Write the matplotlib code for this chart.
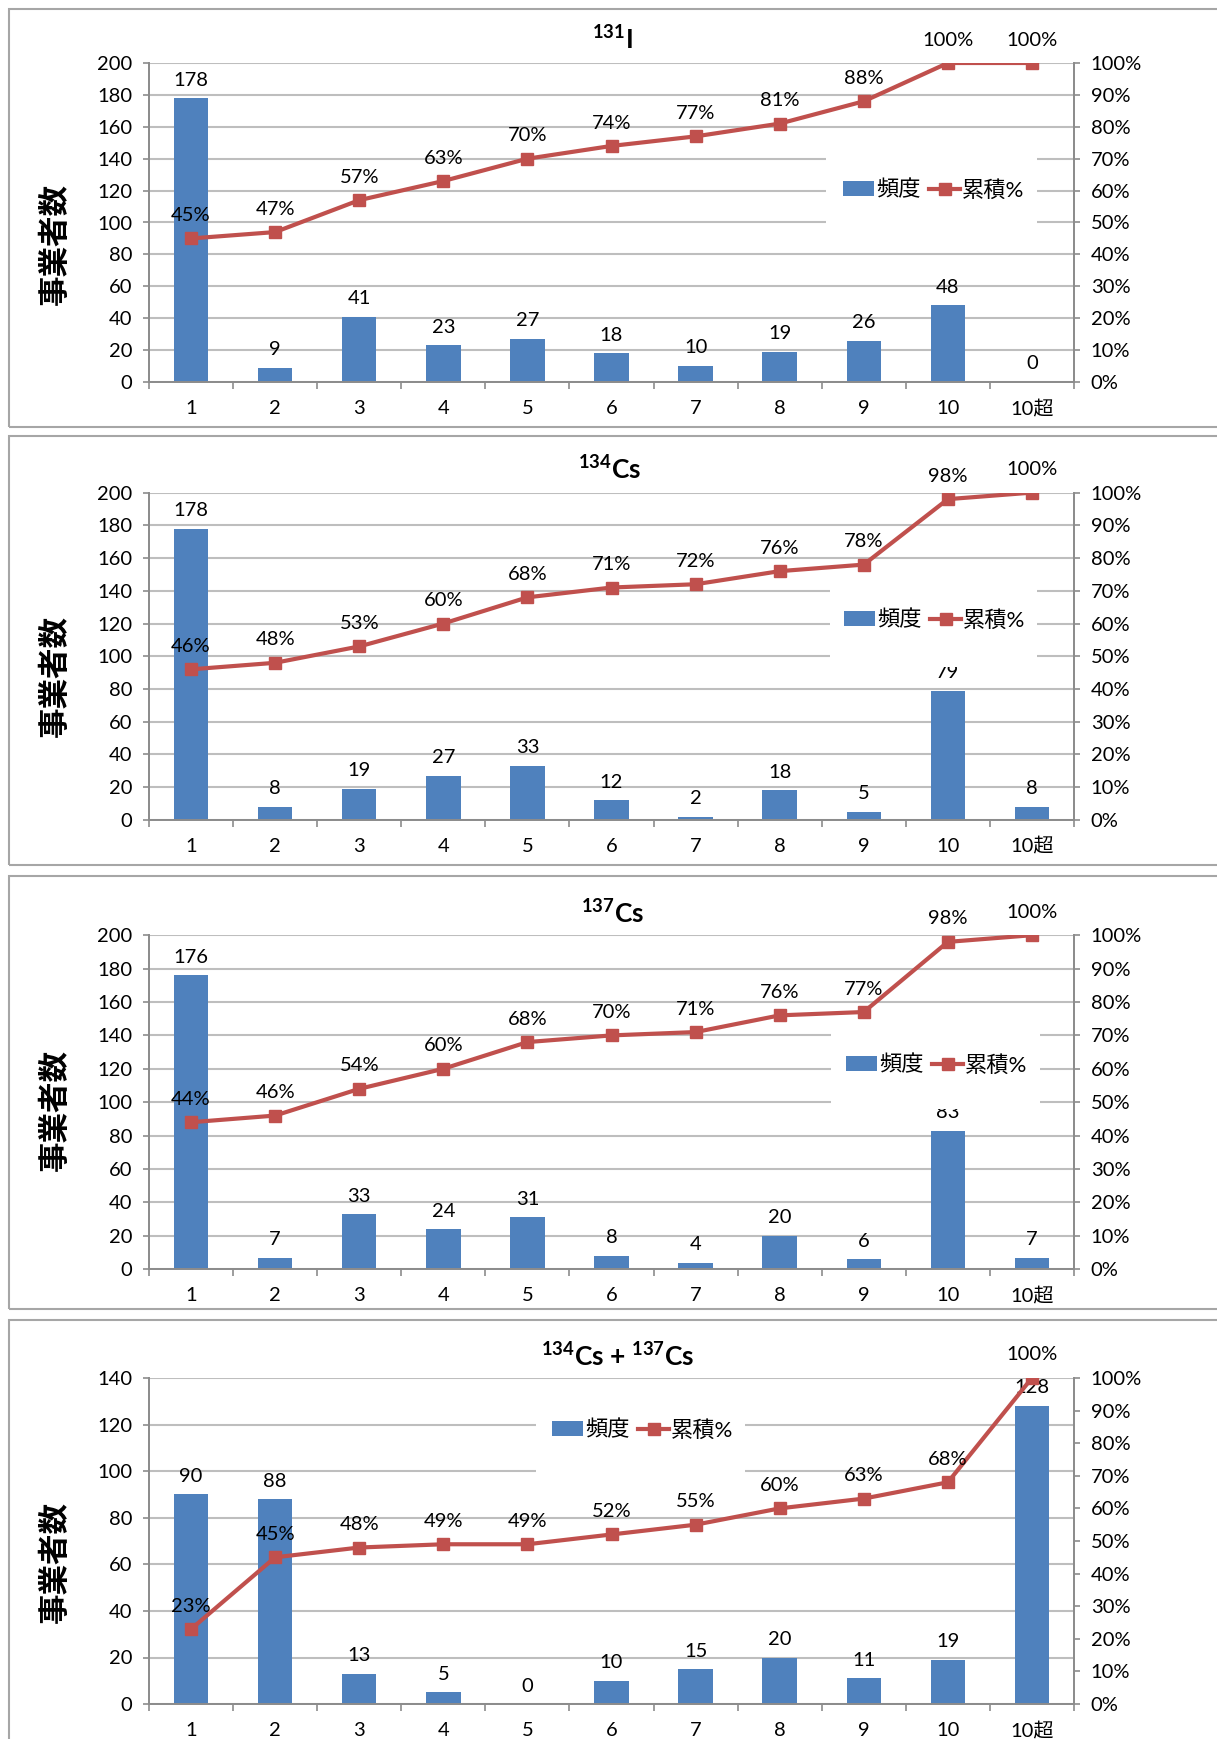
import matplotlib
matplotlib.use("Agg")
import matplotlib.pyplot as plt
from matplotlib.patches import Rectangle, Patch
from matplotlib.lines import Line2D
import numpy as np

# ---- data -------------------------------------------------------------
categories = ['1', '2', '3', '4', '5', '6', '7', '8', '9', '10', '10超']

i131_counts = [178, 9, 41, 23, 27, 18, 10, 19, 26, 48, 0]
i131_cum = [45, 47, 57, 63, 70, 74, 77, 81, 88, 100, 100]

cs134_counts = [178, 8, 19, 27, 33, 12, 2, 18, 5, 79, 8]
cs134_cum = [46, 48, 53, 60, 68, 71, 72, 76, 78, 98, 100]

cs137_counts = [176, 7, 33, 24, 31, 8, 4, 20, 6, 83, 7]
cs137_cum = [44, 46, 54, 60, 68, 70, 71, 76, 77, 98, 100]

cs_sum_counts = [90, 88, 13, 5, 0, 10, 15, 20, 11, 19, 128]
cs_sum_cum = [23, 45, 48, 49, 49, 52, 55, 60, 63, 68, 100]

titles = [r'$\mathbf{^{131}I}$', r'$\mathbf{^{134}Cs}$',
          r'$\mathbf{^{137}Cs}$', r'$\mathbf{^{134}Cs}$ + $\mathbf{^{137}Cs}$']
y_max = [200, 200, 200, 140]
y_label = '事業者数'
legend_labels = ['頻度', '累積%']

# ---- style ------------------------------------------------------------
plt.rcParams['font.family'] = ['Lato', 'Noto Sans CJK JP']
plt.rcParams['mathtext.fontset'] = 'custom'
plt.rcParams['mathtext.rm'] = 'Lato'
plt.rcParams['mathtext.bf'] = 'Lato:bold'

BAR = '#4F81BD'
LINE = '#C0504D'
GRID = '#BEBEBE'
SPINE = '#8C8C8C'
FRAME = '#A6A6A6'
TXT = '#000000'
FS = 14.5

W, H = 1217, 1739
fig = plt.figure(figsize=(W / 100, H / 100), dpi=100)
fig.patch.set_facecolor('white')


def fx(px):
    return px / W


def fy(py):
    return 1 - py / H


# per-panel layout in pixels
layout = [
    dict(frame=(9, 427), ax=(63, 382), title=(612, 39), ylab=244,
         leg=(934, 190), box=(826, 1037, 137, 243)),
    dict(frame=(436, 865), ax=(492.6, 819.9), title=(610, 469), ylab=676,
         leg=(935, 620), box=(830, 1037, 567, 667)),
    dict(frame=(876, 1309), ax=(935.2, 1269.2), title=(613, 913), ylab=1110,
         leg=(937, 1065), box=(831, 1040, 1017, 1109)),
    dict(frame=(1320, 1760), ax=(1377.9, 1704.1), title=(618, 1356), ylab=1562,
         leg=(643, 1430), box=(536, 745, 1383, 1478)),
]
AX_L, AX_R = 149, 1074

series = [(i131_counts, i131_cum), (cs134_counts, cs134_cum),
          (cs137_counts, cs137_cum), (cs_sum_counts, cs_sum_cum)]

x = np.arange(len(categories))

for k, ((counts, cum), lay) in enumerate(zip(series, layout)):
    # panel frame
    ft, fb = lay['frame']
    fig.add_artist(Rectangle((fx(9), fy(fb)), fx(1240 - 9), (fb - ft) / H,
                             transform=fig.transFigure, fill=False,
                             edgecolor=FRAME, lw=1.5, zorder=0))

    top, bot = lay['ax']
    ax = fig.add_axes([fx(AX_L), fy(bot), fx(AX_R - AX_L), (bot - top) / H])
    ax2 = ax.twinx()

    ymax = y_max[k]
    ax.bar(x, counts, width=0.41, color=BAR, zorder=2)
    ax.set_xlim(-0.5, len(categories) - 0.5)
    ax.set_ylim(0, ymax)
    ax.set_yticks(np.arange(0, ymax + 1, 20))
    ax.set_axisbelow(True)
    ax.yaxis.grid(True, color=GRID, lw=1.5)

    ax2.plot(x, cum, color=LINE, lw=3, marker='s', ms=8.5,
             markeredgecolor=LINE, zorder=3)
    ax2.set_ylim(0, 100)
    ax2.set_yticks(np.arange(0, 101, 10))
    ax2.set_yticklabels([f'{v}%' for v in range(0, 101, 10)])

    # value labels
    for xi, v in zip(x, counts):
        ax.annotate(f'{v}', (xi, v), xytext=(0, 13), textcoords='offset points',
                    ha='center', va='center', fontsize=FS, color=TXT, zorder=3)
    for xi, v in zip(x, cum):
        ax2.annotate(f'{v}%', (xi, v), xytext=(0, 16.5), textcoords='offset points',
                     ha='center', va='center', fontsize=FS, color=TXT, zorder=4)

    # axes styling
    for a in (ax, ax2):
        a.spines['top'].set_visible(False)
        for s in ('left', 'right', 'bottom'):
            a.spines[s].set_color(SPINE)
            a.spines[s].set_linewidth(1.3)
    ax.set_xticks(x)
    ax.set_xticklabels(categories)
    ax.set_xticks(np.arange(-0.5, len(categories), 1), minor=True)
    ax.tick_params(axis='x', which='major', length=0, pad=13, labelsize=FS,
                   colors=TXT)
    ax.tick_params(axis='x', which='minor', length=5, width=1.2, color=SPINE,
                   direction='out')
    ax.tick_params(axis='y', length=4, width=1.2, color=SPINE, pad=8,
                   labelsize=FS, labelcolor=TXT)
    ax2.tick_params(axis='y', length=4, width=1.2, color=SPINE, pad=8,
                    labelsize=FS, labelcolor=TXT)

    # white legend backdrop hiding the gridlines behind it
    bx0, bx1, by0, by1 = lay['box']
    h = bot - top
    ax.add_patch(Rectangle(((bx0 - AX_L) / (AX_R - AX_L), (bot - by1) / h),
                           (bx1 - bx0) / (AX_R - AX_L), (by1 - by0) / h,
                           transform=ax.transAxes, facecolor='white',
                           edgecolor='none', zorder=4, clip_on=False))
    lx, ly = lay['leg']
    handles = [Patch(facecolor=BAR, edgecolor='none'),
               Line2D([], [], color=LINE, lw=3, marker='s', ms=8.5)]
    leg = ax.legend(handles, legend_labels, loc='center', ncol=2,
                    bbox_to_anchor=((lx - AX_L) / (AX_R - AX_L), (bot - ly) / h),
                    frameon=False, fontsize=16, handlelength=1.4,
                    handleheight=0.7, handletextpad=0.1, columnspacing=0.35,
                    borderpad=0, borderaxespad=0)
    leg.set_zorder(5)

    # title and y-axis label
    tx, ty = lay['title']
    fig.text(fx(tx), fy(ty), titles[k], ha='center', va='center',
             fontsize=19, fontweight='bold', color=TXT)
    fig.text(fx(55), fy(lay['ylab']), y_label, rotation=90, ha='center',
             va='center', fontsize=22, fontweight='bold', color=TXT,
             family=['Noto Sans CJK JP'])

fig.savefig('out.png', dpi=100, facecolor='white')
